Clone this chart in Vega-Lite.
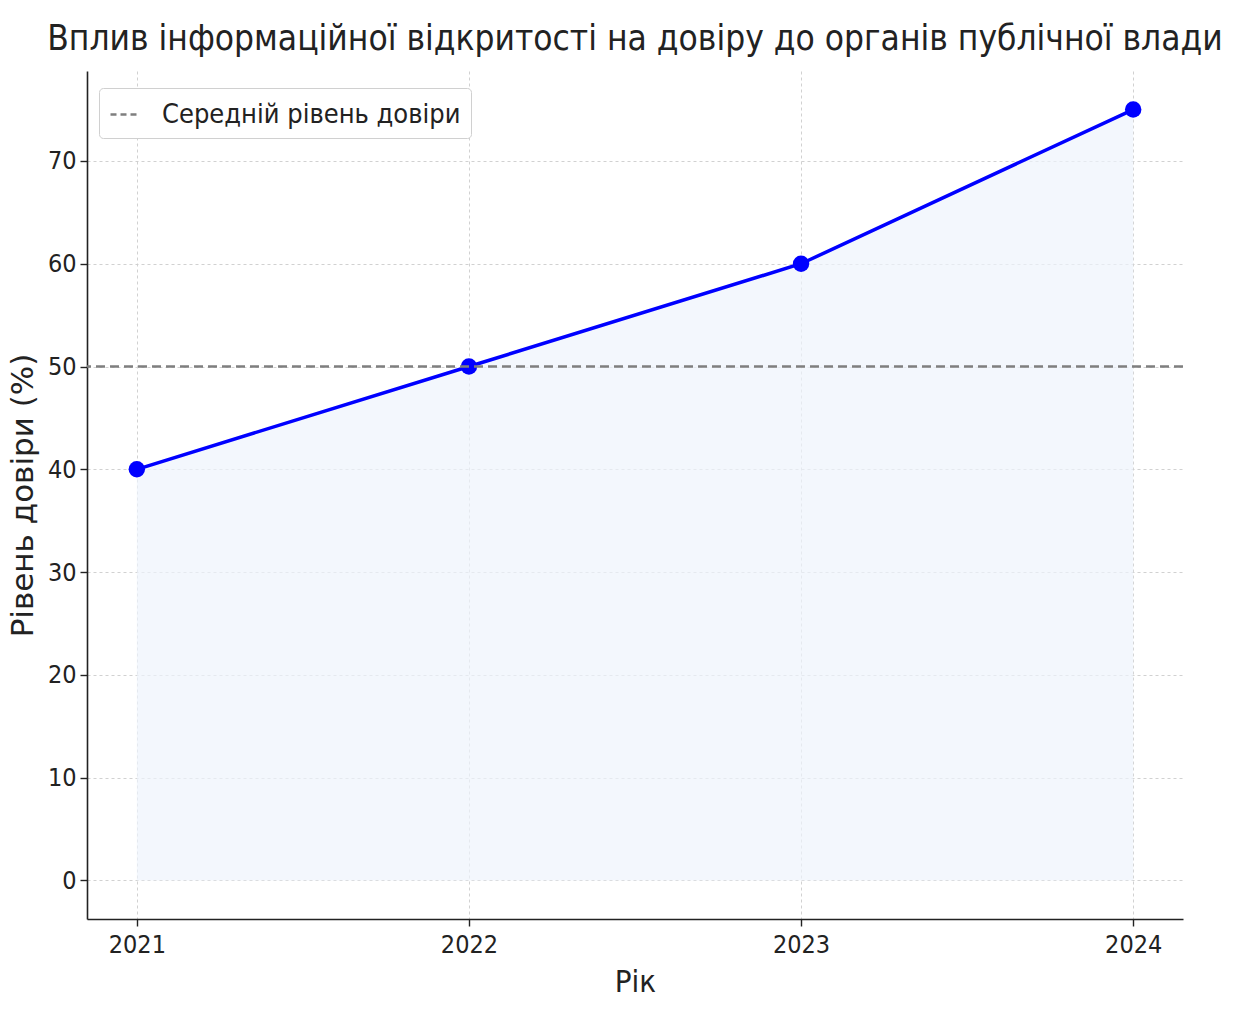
{
  "$schema": "https://vega.github.io/schema/vega-lite/v6.json",
  "width": 1096,
  "height": 848,
  "autosize": {"type": "none"},
  "padding": {"left": 87, "top": 71, "right": 54, "bottom": 98},
  "background": "white",
  "config": {
    "view": {"stroke": null},
    "font": "DejaVu Sans Condensed",
    "axis": {
      "domainColor": "#222222",
      "domainWidth": 1.6,
      "tickColor": "#222222",
      "tickWidth": 1.4,
      "tickSize": 7,
      "labelFont": "DejaVu Sans Condensed",
      "labelFontSize": 25,
      "labelColor": "#222222",
      "titleFont": "DejaVu Sans Condensed",
      "titleFontWeight": "normal",
      "titleColor": "#222222",
      "gridColor": "#cccccc",
      "gridDash": [3, 3],
      "gridWidth": 0.9
    }
  },
  "title": {
    "text": "Вплив інформаційної відкритості на довіру до органів публічної влади",
    "font": "DejaVu Sans Condensed",
    "fontSize": 35,
    "fontWeight": "normal",
    "color": "#222222",
    "anchor": "middle",
    "offset": 14
  },
  "data": {
    "values": [
      {"year": 2021, "trust": 40},
      {"year": 2022, "trust": 50},
      {"year": 2023, "trust": 60},
      {"year": 2024, "trust": 75}
    ]
  },
  "layer": [
    {
      "mark": {"type": "area", "color": "#eef4fc", "opacity": 0.7},
      "encoding": {
        "x": {
          "field": "year", "type": "quantitative",
          "scale": {"domain": [2020.85, 2024.15], "nice": false, "zero": false},
          "axis": {"values": [2021, 2022, 2023, 2024], "format": "d", "title": "Рік", "titleFontSize": 31, "titlePadding": 10, "labelPadding": 6}
        },
        "y": {
          "field": "trust", "type": "quantitative",
          "scale": {"domain": [-3.75, 78.75], "nice": false},
          "axis": {"values": [0, 10, 20, 30, 40, 50, 60, 70], "title": "Рівень довіри (%)", "titleFont": "DejaVu Sans", "titleFontSize": 31, "titlePadding": 8, "labelPadding": 4}
        }
      }
    },
    {
      "mark": {"type": "line", "color": "#0000ff", "strokeWidth": 3.5},
      "encoding": {
        "x": {"field": "year", "type": "quantitative"},
        "y": {"field": "trust", "type": "quantitative"}
      }
    },
    {
      "mark": {"type": "point", "filled": true, "color": "#0000ff", "size": 270, "opacity": 1},
      "encoding": {
        "x": {"field": "year", "type": "quantitative"},
        "y": {"field": "trust", "type": "quantitative"}
      }
    },
    {
      "data": {"values": [{"avg": 50, "series": "Середній рівень довіри"}]},
      "mark": {"type": "rule", "strokeWidth": 2.5, "strokeDash": [9, 5]},
      "encoding": {
        "y": {"field": "avg", "type": "quantitative"},
        "color": {
          "field": "series", "type": "nominal",
          "scale": {"range": ["#7f7f7f"]},
          "legend": {
            "title": null,
            "orient": "none",
            "legendX": 12,
            "legendY": 17,
            "symbolType": "stroke",
            "symbolStrokeWidth": 2.5,
            "symbolDash": [6, 4],
            "symbolSize": 900,
            "labelFont": "DejaVu Sans Condensed",
            "labelFontSize": 27,
            "labelLimit": 600,
            "labelColor": "#222222",
            "labelOffset": 20,
            "padding": 10,
            "fillColor": "white",
            "strokeColor": "#d0d0d0",
            "cornerRadius": 4
          }
        }
      }
    }
  ]
}
